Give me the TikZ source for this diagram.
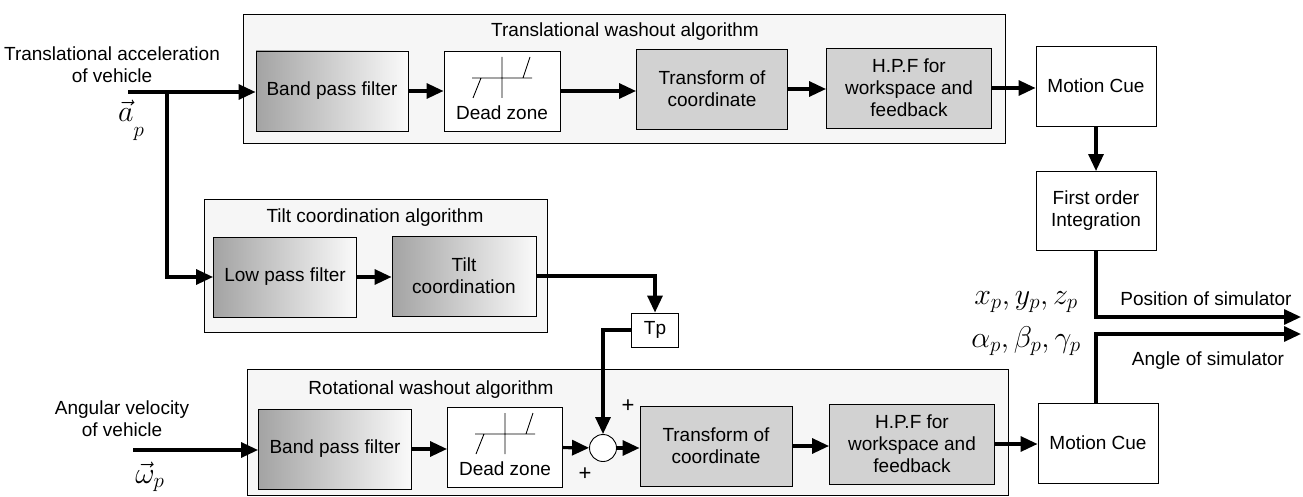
\RequirePackage{fix-cm}
\documentclass[tikz,border=0pt]{standalone}
\usepackage{fontspec}
\setmainfont{Liberation Sans}
\usepackage{amsmath}
\usetikzlibrary{arrows.meta}
\usetikzlibrary{positioning}
\tikzset{
blk/.style={draw, line width=0.9pt, minimum height=80pt, align=center, inner sep=2pt},
gradblk/.style={blk, left color=gray!72, right color=gray!4},
flatblk/.style={blk, fill=gray!35},
plainblk/.style={blk, fill=white},
grp/.style={draw, line width=0.9pt, fill=gray!7},
sig/.style={line width=3.2pt, -{Triangle[length=17pt,width=15pt]}},
wire/.style={line width=3.2pt},
mathlbl/.style={font=\fontsize{30}{32}\selectfont},
dzmark/.pic={
    \draw[line width=0.9pt] (-30,-13) -- (30,-13)
        (0,-34) -- (0,7)
        (-29,7) -- (-21,-13)
        (21,-13) -- (28,-34);
    \node (-t) at (0,22) {Dead zone};
},
}

\begin{document}
\begin{tikzpicture}[x=1pt, y=-1pt, font=\fontsize{19}{22}\selectfont]
    \useasboundingbox (0,0) rectangle (1303,497);
    % algorithm groups
    \draw[grp] (243,14) rectangle (1005,143);
    \draw[grp] (204,199) rectangle (547,332);
    \draw[grp] (247,369) rectangle (1008,495);
    \node (twt) at (625,32) {Translational washout algorithm};
    \node (tct) at (375,218) {Tilt coordination algorithm};
    \node (rwt) at (431,390) {Rotational washout algorithm};

    % translational channel
    \node[gradblk, minimum width=152pt] (bpf1) at (332,91) {Band pass filter};
    \node[plainblk, minimum width=116pt] (dz1) at (502,91) {};
    \pic (dz1s) at (dz1.center) {dzmark};
    \node[flatblk, minimum width=151pt] (tc1) at (712,89) {Transform of\\coordinate};
    \node[flatblk, minimum width=165pt] (hpf1) at (909,88) {H.P.F for\\workspace and\\feedback};
    \node[plainblk, minimum width=120pt] (mc1) at (1096,86) {Motion Cue};
    \node[plainblk, minimum width=120pt, minimum height=79pt] (foi) at (1096,211) {First order\\Integration};

    % tilt coordination
    \node[gradblk, minimum width=143pt] (lpf) at (285,277) {Low pass filter};
    \node[gradblk, minimum width=144pt] (tilt) at (464,276) {Tilt\\coordination};
    \node[plainblk, minimum width=47pt, minimum height=34pt] (tp) at (655,330) {Tp};

    % rotational channel
    \node[gradblk, minimum width=153pt] (bpf2) at (335,449) {Band pass filter};
    \node[plainblk, minimum width=115pt] (dz2) at (505,447) {};
    \pic (dz2s) at (dz2.center) {dzmark};
    \node[draw, circle, line width=0.9pt, fill=white, minimum size=27pt, inner sep=0pt] (sum) at (603,448) {};
    \node[flatblk, minimum width=152pt] (tc2) at (716,446) {Transform of\\coordinate};
    \node[flatblk, minimum width=165pt] (hpf2) at (912,444) {H.P.F for\\workspace and\\feedback};
    \node[plainblk, minimum width=120pt] (mc2) at (1098,443) {Motion Cue};

    % inputs
    \node[align=center] (ainl) at (112,65) {Translational acceleration\\of vehicle};
    \node[mathlbl] (ap) at (131,120) {$\vec{a}\raisebox{-15pt}{$\scriptstyle p$}$};
    \coordinate (ain) at (128,92);
    \coordinate (br) at (167,92);
    \node[align=center] (winl) at (122,419) {Angular velocity\\of vehicle};
    \node[mathlbl] (wp) at (150,477) {$\vec{\omega}_p$};
    \coordinate (win) at (133,450);

    % outputs
    \coordinate (posout) at (1301,317);
    \coordinate (angout) at (1301,334);
    \node (posl) at (1206,299) {Position of simulator};
    \node (angl) at (1208,361) {Angle of simulator};
    \node[mathlbl] (xyz) at (1026,302) {$x_p, y_p, z_p$};
    \node[mathlbl] (abg) at (1026,341) {$\alpha_p, \beta_p, \gamma_p$};
    \node[font=\fontsize{22}{24}\selectfont] (plus1) at (628,406) {+};
    \node[font=\fontsize{22}{24}\selectfont] (plus2) at (585,474) {+};

    \draw[wire] (ain) -- (br);
    \draw[sig] (br) -- (bpf1.west |- br);
    \draw[sig] (br) |- (lpf);
    \draw[sig] (bpf1) -- (dz1);
    \draw[sig] (dz1) -- (tc1.west |- dz1);
    \draw[sig] (tc1) -- (hpf1.west |- tc1);
    \draw[sig] (hpf1) -- (mc1.west |- hpf1);
    \draw[sig] (mc1) -- (foi);
    \draw[sig] (foi) |- (posout);
    \draw[sig] (lpf) -- (tilt.west |- lpf);
    \draw[sig] (tilt.east) -| (tp.north);
    \draw[sig] (tp.west) -| (sum.north);
    \draw[sig] (win) -- (bpf2.west |- win);
    \draw[sig] (bpf2) -- (dz2.west |- bpf2);
    \draw[sig] (dz2) -- (sum);
    \draw[sig] (sum) -- (tc2.west |- sum);
    \draw[sig] (tc2) -- (hpf2.west |- tc2);
    \draw[sig] (hpf2) -- (mc2.west |- hpf2);
    \draw[sig] (mc2.north -| foi) |- (angout);
\end{tikzpicture}
\end{document}
